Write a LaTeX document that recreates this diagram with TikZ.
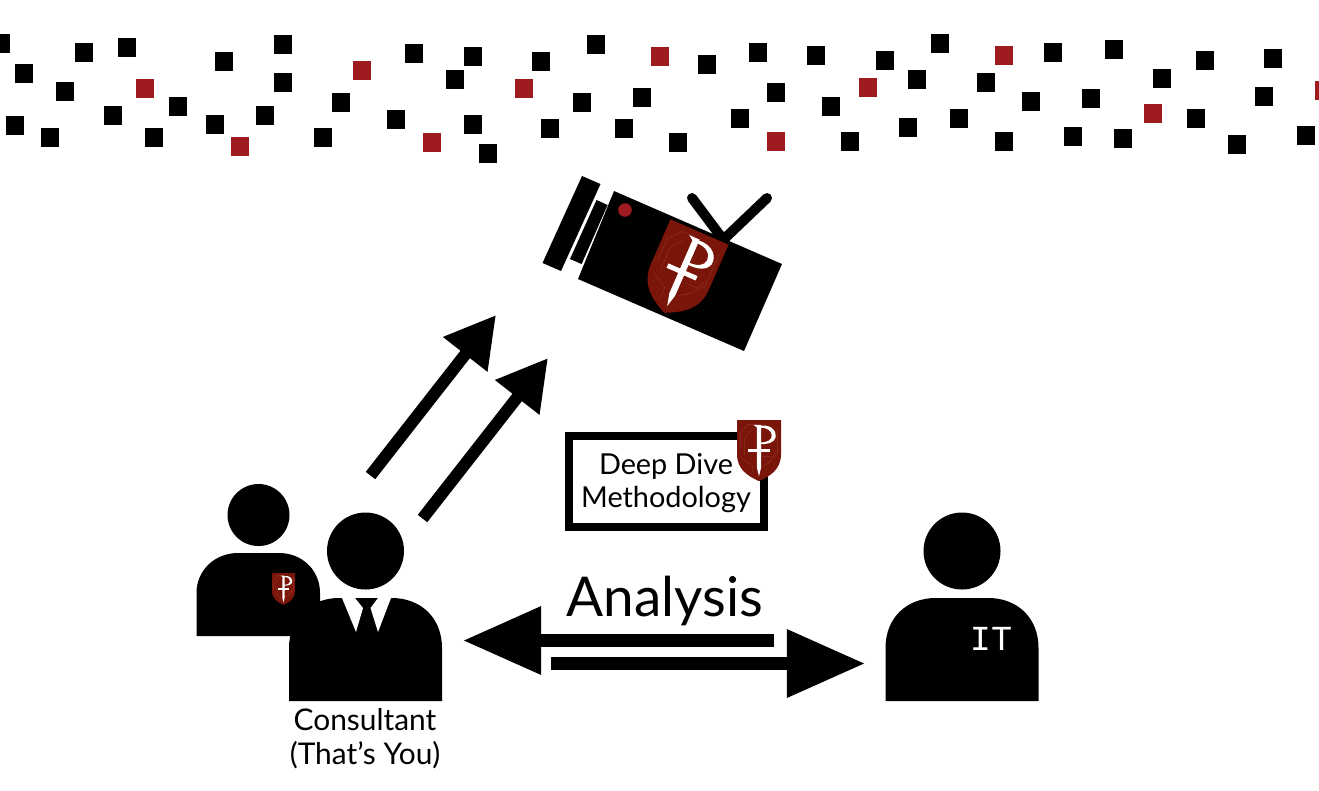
\documentclass[tikz,border=0pt]{standalone}
\usepackage{fontspec}
\setmainfont{Lato}
\newfontfamily\slabfont{Liberation Mono}
\usetikzlibrary{arrows.meta}
\definecolor{squarered}{HTML}{9E1B20}
\definecolor{shieldred}{HTML}{7A1509}
\definecolor{tracered}{HTML}{8F3022}
\tikzset{
	bigarrow/.style={line width=#1, -{Triangle[length=5mm, width=5.3mm]}},
	hugearrow/.style={line width=1.3mm, -{Triangle[length=7.8mm, width=6.5mm]}},
	label/.style={inner sep=0, align=center, text=black},
}
\def\person(#1,#2){
	\fill (#1+76.5,#2-94) circle (38.5);
	\fill (#1,#2+56) -- (#1,#2+3) .. controls (#1,#2-28) and (#1+22,#2-47) .. (#1+50,#2-47) -- (#1+103,#2-47) .. controls (#1+131,#2-47) and (#1+153,#2-28) .. (#1+153,#2+3) -- (#1+153,#2+56) -- cycle;
}
\def\shield[#1]{
	\begin{scope}[#1]
		\fill[shieldred] (-1,0) -- (1,0) -- (1,1.55) .. controls (1,2.25) and (0.5,2.55) .. (0,2.78) .. controls (-0.5,2.55) and (-1,2.25) .. (-1,1.55) -- cycle;
		\draw[tracered, line width=0.15pt] (-0.85,1.3) -- (-0.85,0.6) -- (-0.5,0.2) -- (-0.1,0.2);
		\draw[tracered, line width=0.15pt] (-0.65,1.6) -- (-0.65,0.8) -- (-0.35,0.45);
		\draw[tracered, line width=0.15pt] (-0.8,1.75) -- (-0.3,2.05) -- (-0.3,2.35);
		\draw[tracered, line width=0.15pt] (0.85,0.4) -- (0.85,1.5) -- (0.4,2.0);
		\draw[tracered, line width=0.15pt] (0.2,1.65) -- (0.65,1.65) -- (0.75,1.4);
		\draw[tracered, line width=0.15pt] (0.2,2.1) -- (0.55,1.85);
		\fill[white] (-0.26,0.22) -- (0.1,0.22) -- (0.1,2.15) -- (0,2.55) -- (-0.1,2.15) -- (-0.1,0.33) -- cycle;
		\fill[white] (-0.5,1.3) rectangle (0.5,1.45);
		\fill[white] (0.05,0.26) .. controls (0.6,0.18) and (0.8,0.55) .. (0.76,0.78) .. controls (0.7,1.02) and (0.4,1.12) .. (0.05,1.09) -- (0.05,1.02) .. controls (0.38,1.02) and (0.56,0.92) .. (0.58,0.72) .. controls (0.58,0.5) and (0.38,0.33) .. (0.05,0.36) -- cycle;
	\end{scope}
}

\begin{document}
\begin{tikzpicture}[x=0.01cm, y=-0.01cm]
	\useasboundingbox (0,0) rectangle (1319,790);
	
	%%%%% SQUARES %%%%%
	
	\foreach \sx/\sy in {1/43, 84/52, 127/47, 24/73, 65/91, 224/61, 283/44, 283/82, 178/106, 113/115, 15/125, 50/137, 154/137, 215/124, 265/115, 341/102, 323/137, 414/53, 473/56, 455/79, 396/119, 473/124, 488/153, 541/61, 596/44, 582/102, 550/128, 624/128, 642/97, 707/64, 758/52, 816/55, 885/60, 940/43, 1053/52, 1114/49, 1205/60, 1273/58, 776/92, 831/106, 917/79, 986/82, 1031/101, 1091/98, 1162/78, 1264/96, 740/118, 959/118, 908/127, 1196/118, 678/142, 850/141, 1004/141, 1073/136, 1123/138, 1237/144, 1306/135}
		\fill (\sx-9.5,\sy-9) rectangle (\sx+9,\sy+9.5);
	\foreach \sx/\sy in {145/88, 240/146, 362/70, 432/142, 524/88, 660/56, 776/141, 868/87, 1004/55, 1153/113, 1324/90}
		\fill[squarered] (\sx-9.5,\sy-9) rectangle (\sx+9,\sy+9.5);
	
	%%%%% CAMERA %%%%%
	
	\fill (582,176) -- (600.5,184) -- (561,271) -- (542.5,263) -- cycle;
	\fill (596.5,200) -- (607.6,205) -- (581.6,264) -- (570,259) -- cycle;
	\draw[line width=1mm, line cap=round] (692,198) -- (722,238);
	\draw[line width=1mm, line cap=round] (767,198) -- (722,241);
	\fill (614,191) -- (782,264) -- (744,351) -- (578,279) -- cycle;
	\fill[squarered] (625,210) circle (6.8);
	\shield[shift={(699.5,232)}, rotate=-23.6, scale=31.7]
	
	%%%%% PEOPLE %%%%%
	
	\fill (258.5,515) circle (31);
	\fill (196.5,636) -- (196.5,593) .. controls (196.5,570) and (215,553) .. (238,553) -- (279,553) .. controls (302,553) and (320,570) .. (320,593) -- (320,636) -- cycle;
	\shield[shift={(283.5,573)}, scale=11.5]
	
	\person(289,645)
	\fill[white] (342,598) -- (355,598) -- (363,608) -- (356,632) -- cycle;
	\fill[white] (391,598) -- (378,598) -- (370.5,608) -- (378,632) -- cycle;
	
	\person(885.5,645)
	\node[label, text=white, font=\slabfont\fontsize{10}{12}\selectfont] (itlabel) at (991,638.5) {IT};
	
	\node[label, font=\fontsize{8.5}{9.6}\selectfont] (consultant) at (365,739) {Consultant\\(That’s You)};
	
	%%%%% METHOD %%%%%
	
	\draw[line width=0.8mm] (569,436) rectangle (764,527);
	\node[label, font=\fontsize{8.2}{9.2}\selectfont] (method) at (666,483) {Deep Dive\\Methodology};
	\shield[shift={(759,420)}, scale=22]
	
	%%%%% ARROWS %%%%%
	
	\coordinate (tailone) at (370.5,475.5);
	\coordinate (tipone) at (496,315);
	\coordinate (tailtwo) at (422.5,518.5);
	\coordinate (tiptwo) at (548,358);
	\draw[bigarrow=1.2mm] (tailone) -- (tipone);
	\draw[bigarrow=1.2mm] (tailtwo) -- (tiptwo);
	
	\node[label, font=\fontsize{15.6}{18}\selectfont] (analysis) at (665,601) {Analysis};
	\coordinate (tailleft) at (774,640.5);
	\coordinate (tipleft) at (463,640.5);
	\coordinate (tailright) at (551,663.5);
	\coordinate (tipright) at (865,663.5);
	\draw[hugearrow] (tailleft) -- (tipleft);
	\draw[hugearrow] (tailright) -- (tipright);
	
\end{tikzpicture}
\end{document}
